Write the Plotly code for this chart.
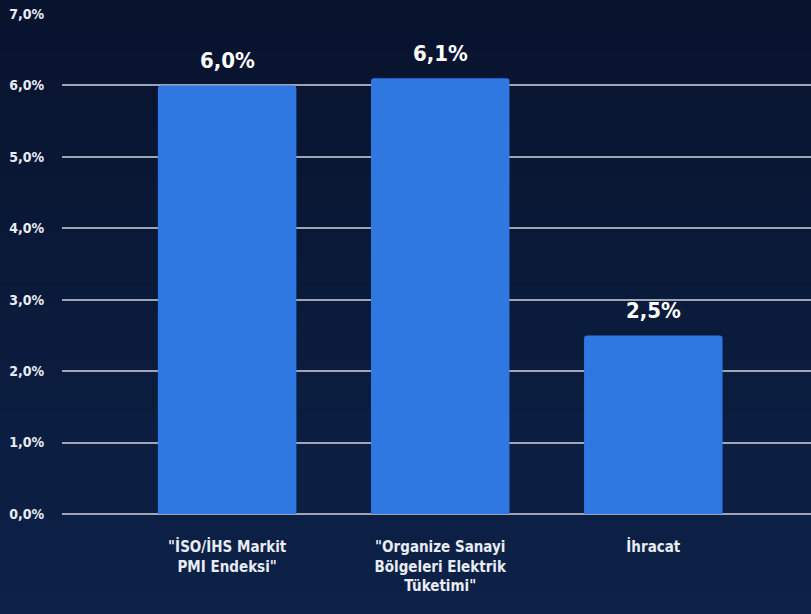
import plotly.graph_objects as go

categories = ['"İSO/İHS Markit<br>PMI Endeksi"', '"Organize Sanayi<br>Bölgeleri Elektrik<br>Tüketimi"', 'İhracat']
values = [6.0, 6.1, 2.5]
value_labels = ["6,0%", "6,1%", "2,5%"]
y_ticks = [0, 1, 2, 3, 4, 5, 6, 7]
y_tick_labels = ["0,0%", "1,0%", "2,0%", "3,0%", "4,0%", "5,0%", "6,0%", "7,0%"]

FONT = "DejaVu Sans Condensed, Roboto Condensed, Liberation Sans Narrow, Roboto, sans-serif"

x_idx = list(range(len(categories)))

fig = go.Figure(go.Bar(
    x=x_idx,
    y=values,
    marker=dict(color="#2f78e2", line=dict(width=0), cornerradius=3),
    width=0.65,
    hoverinfo="skip",
))

# value labels above the bars
for xi, v, lab in zip(x_idx, values, value_labels):
    fig.add_annotation(x=xi, y=v, text=lab, showarrow=False, yanchor="bottom",
                       yshift=10, font=dict(family=FONT, size=22, color="white", weight="bold"))

# subtle vertical background gradient (top darker, bottom lighter)
top = (8, 19, 46)
bot = (13, 34, 72)
n = 24
y_lo, y_hi = -0.21, 1.03
for i in range(n):
    t = i / (n - 1)
    c = tuple(round(bot[k] + (top[k] - bot[k]) * t) for k in range(3))
    fig.add_shape(type="rect", xref="paper", yref="paper", layer="below",
                  x0=-0.1, x1=1.01, y0=y_lo + (y_hi - y_lo) * i / n,
                  y1=y_lo + (y_hi - y_lo) * (i + 1) / n,
                  fillcolor="rgb(%d,%d,%d)" % c, line=dict(width=0))

fig.update_layout(
    width=811, height=614,
    margin=dict(l=62, r=0, t=14, b=100, autoexpand=False),
    paper_bgcolor="#0b1a3c",
    plot_bgcolor="rgba(0,0,0,0)",
    showlegend=False,
    font=dict(family=FONT, color="white"),
)
fig.update_xaxes(
    tickvals=x_idx,
    ticktext=categories,
    range=[-0.775, 2.74],
    showgrid=False, zeroline=False, showline=False,
    ticks="outside", ticklen=19, tickcolor="rgba(0,0,0,0)",
    tickfont=dict(family=FONT, size=15, color="#e8ecf4", weight="bold"),
    automargin=False,
)
fig.update_yaxes(
    range=[0, 7],
    tickvals=y_ticks,
    ticktext=y_tick_labels,
    showgrid=True, gridcolor="rgba(195,200,212,0.8)", gridwidth=2,
    zeroline=True, zerolinecolor="rgba(195,200,212,0.8)", zerolinewidth=2,
    showline=False,
    ticks="outside", ticklen=14, tickcolor="rgba(0,0,0,0)",
    tickfont=dict(family=FONT, size=14, color="#e8ecf4", weight="bold"),
    automargin=False,
)

fig.write_html(
    "out.html",
    config={"displayModeBar": False},
    post_script="document.body.style.margin='0';document.body.style.background='#0b1a3c';",
)
